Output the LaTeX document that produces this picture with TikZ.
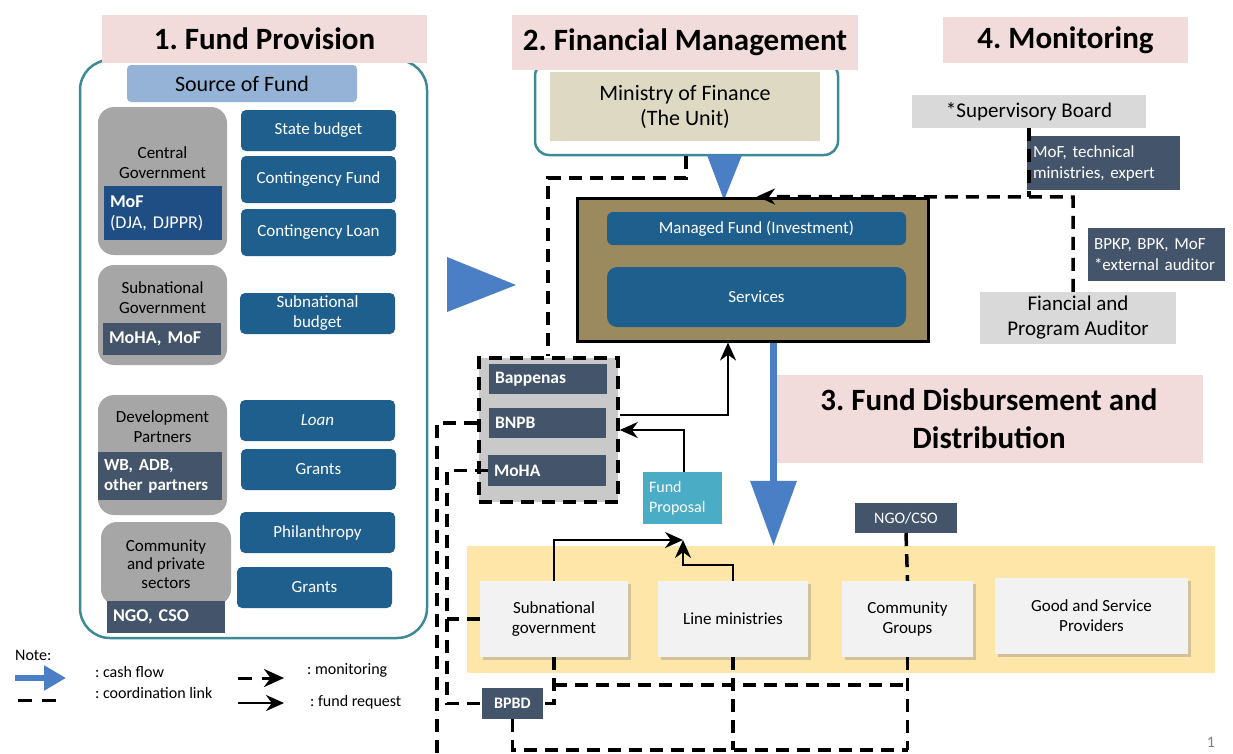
\documentclass[tikz,border=0pt]{standalone}
\usepackage{fontspec}
\setmainfont{Carlito}[WordSpace={1,0,0}]
\usetikzlibrary{arrows.meta,shadows}
\frenchspacing

\definecolor{headpink}{HTML}{F2DCDB}
\definecolor{frameteal}{HTML}{3C8A96}
\definecolor{srcblue}{HTML}{95B3D7}
\definecolor{govgray}{HTML}{A6A6A6}
\definecolor{fundblue}{HTML}{1F5F8E}
\definecolor{mofblue}{HTML}{1F4E85}
\definecolor{slate}{HTML}{44546A}
\definecolor{mofTan}{HTML}{DDD9C3}
\definecolor{mgdOlive}{HTML}{9A8A5E}
\definecolor{boardgray}{HTML}{D9D9D9}
\definecolor{cashblue}{HTML}{4A7EC5}
\definecolor{propcyan}{HTML}{4BACC6}
\definecolor{bandyellow}{HTML}{FDE6A8}
\definecolor{paper}{HTML}{F2F2F2}
\definecolor{grpgray}{HTML}{C9C9C9}

\tikzset{
	head/.style={fill=headpink, font=\fontsize{31}{38}\selectfont\bfseries, inner sep=0, align=center},
	govbox/.style={fill=govgray, rounded corners=16, inner sep=0},
	govtext/.style={font=\fontsize{17}{20}\selectfont, inner sep=0, align=center},
	fundbox/.style={fill=fundblue, rounded corners=5, text=white, font=\fontsize{17}{20}\selectfont, minimum width=155, minimum height=41, inner sep=0, align=center},
	tag/.style={fill=slate, text=white, font=\fontsize{18}{21}\selectfont\bfseries, inner xsep=6, inner ysep=0, align=left},
	greybox/.style={fill=boardgray, font=\fontsize{21}{25}\selectfont, inner sep=0, align=center},
	paperbox/.style={fill=paper, font=\fontsize{17}{20}\selectfont, minimum height=76, inner sep=0, align=center, drop shadow={shadow xshift=3, shadow yshift=3, opacity=0.35}},
	legend/.style={font=\fontsize{16}{19}\selectfont, anchor=west, inner sep=0},
	coordln/.style={line width=3.5, dash pattern=on 13 off 8},
	monitor/.style={coordln, -{Stealth[length=18,width=16]}},
	request/.style={line width=2.5, -{Stealth[length=18,width=16]}},
	cashflow/.style={cashblue, line width=7, -{Triangle[length=65,width=45]}},
}

\begin{document}
\begin{tikzpicture}[x=1pt,y=-1pt]
	\useasboundingbox (0,0) rectangle (1233,753);

	% 1. fund provision
	\node[draw=frameteal, line width=2.5, rounded corners=30, minimum width=347, minimum height=578] (prov) at (253.5,349) {};
	\node[head, minimum width=325, minimum height=48] (h1) at (264.5,39) {1. Fund Provision};
	\node[fill=srcblue, rounded corners=4, minimum width=230, minimum height=37, font=\fontsize{22}{26}\selectfont] (src) at (242,83.5) {Source of Fund};

	\node[govbox, minimum width=129, minimum height=148] (cg) at (162.5,181) {};
	\node[govtext] (cgt) at (162.5,163) {Central\\Government};
	\node[tag, fill=mofblue, text width=106, minimum height=54, font=\fontsize{18}{21}\selectfont] (cgm) at (163,213) {\textbf{MoF}\\(DJA, DJPPR)};
	\node[govbox, minimum width=129, minimum height=100] (sg) at (162.5,315) {};
	\node[govtext] (sgt) at (162.5,297.5) {Subnational\\Government};
	\node[tag, text width=106, minimum height=32] (sgm) at (162,339) {MoHA, MoF};
	\node[govbox, minimum width=129, minimum height=120] (dp) at (162.5,455) {};
	\node[govtext] (dpt) at (162.5,427) {Development\\Partners};
	\node[tag, text width=112, minimum height=48, font=\fontsize{17}{20}\selectfont\bfseries] (dpm) at (160,476) {WB, ADB,\\other partners};
	\node[govbox, minimum width=130, minimum height=83] (cp) at (166,563.5) {};
	\node[govtext, font=\fontsize{17}{18.5}\selectfont] (cpt) at (166,564) {Community\\and private\\sectors};
	\node[tag, text width=106, minimum height=32] (cpm) at (166,617) {NGO, CSO};

	\node[fundbox] (sb) at (318.5,130.5) {State budget};
	\node[fundbox, minimum height=47] (cf) at (318.5,179.5) {Contingency Fund};
	\node[fundbox, minimum height=47] (cl) at (318.5,232.5) {Contingency Loan};
	\node[fundbox] (snb) at (317.5,313.5) {Subnational\\budget};
	\node[fundbox] (loan) at (317.5,420.5) {\itshape Loan};
	\node[fundbox] (gr1) at (318.5,469.5) {Grants};
	\node[fundbox] (phil) at (317.5,532.5) {Philanthropy};
	\node[fundbox] (gr2) at (314.5,587.5) {Grants};

	\fill[cashblue] (447,257) -- (516,285) -- (447,312) -- cycle;

	% 2. financial management
	\node[draw=frameteal, fill=white, line width=2.5, rounded corners=14, minimum width=303, minimum height=93] (mofo) at (686.5,108.5) {};
	\node[head, minimum width=346, minimum height=55] (h2) at (685,42.5) {2. Financial Management};
	\node[fill=mofTan, minimum width=270, minimum height=69, font=\fontsize{22}{25}\selectfont, align=center] (mof) at (685,106.5) {Ministry of Finance\\(The Unit)};
	\fill[cashblue] (707,155) -- (742,155) -- (724,200) -- cycle;

	\node[draw, fill=mgdOlive, line width=3, minimum width=351, minimum height=143] (mgd) at (752.5,269.5) {};
	\node[fundbox, minimum width=299, minimum height=33, rounded corners=6] (mf) at (756.5,228.5) {Managed Fund (Investment)};
	\node[fundbox, minimum width=299, minimum height=60, rounded corners=10] (serv) at (756.5,297) {Services};

	% 4. monitoring
	\node[head, minimum width=245, minimum height=46] (h4) at (1065.5,40) {4. Monitoring};
	\node[greybox, minimum width=234, minimum height=33] (sup) at (1029,111.5) {*Supervisory Board};
	\node[tag, font=\fontsize{17}{21}\selectfont, text width=141, minimum height=54] (supm) at (1103.5,163) {MoF, technical\\ministries, expert};
	\node[greybox, minimum width=196, minimum height=52] (aud) at (1078,318) {Fiancial and\\Program Auditor};
	\node[tag, font=\fontsize{17}{21}\selectfont, text width=125, minimum height=53] (audm) at (1156.5,254.5) {BPKP, BPK, MoF\\{}*external auditor};

	\coordinate (mj) at (1073,197);
	\coordinate (mt) at (757,0);
	\draw[coordln] (sup.south) -- (sup.south |- mj);
	\draw[monitor] (aud.north -| mj) -- (mj) -- (mgd.north -| mt);

	% 3. disbursement
	\node[head, minimum width=428, minimum height=88] (h3) at (989,419) {3. Fund Disbursement and\\Distribution};
	\coordinate (dn) at (773.5,0);
	\node[fill=bandyellow, minimum width=748, minimum height=127] (band) at (841,609.5) {};
	\draw[cashflow] (mgd.south -| dn) -- (band.north -| dn);

	\node[paperbox, minimum width=148] (sng) at (554,619) {Subnational\\government};
	\node[paperbox, minimum width=150] (lm) at (733,619) {Line ministries};
	\node[paperbox, minimum width=131] (cgp) at (907.5,619) {Community\\Groups};
	\node[paperbox, minimum width=193] (gsp) at (1091.5,616) {Good and Service\\Providers};
	\node[tag, font=\fontsize{16}{19}\selectfont, minimum width=102, minimum height=30] (ngo) at (906,518) {NGO/CSO};
	\draw[coordln] (ngo.south) -- (cgp.north);

	% coordination group
	\node[draw, fill=grpgray, coordln, minimum width=139, minimum height=144] (grp) at (548.5,430) {};
	\node[tag, font=\fontsize{17.5}{20}\selectfont\bfseries, text width=106, minimum height=30] (bap) at (548,379) {Bappenas};
	\node[tag, font=\fontsize{17.5}{20}\selectfont\bfseries, text width=105, minimum height=30] (bnpb) at (547.5,423) {BNPB};
	\node[tag, font=\fontsize{17.5}{20}\selectfont\bfseries, text width=106, minimum height=31] (moha) at (547,470.5) {MoHA};
	\node[fill=propcyan, text=white, font=\fontsize{16}{20}\selectfont, text width=67, inner xsep=6, minimum height=52, align=left] (prop) at (682.5,498) {Fund\\Proposal};
	\node[tag, font=\fontsize{16}{19}\selectfont\bfseries, minimum width=61, minimum height=31, align=center] (bpbd) at (512.5,703.5) {BPBD};

	\coordinate (c1) at (686,178);
	\coordinate (c2) at (548,178);
	\draw[coordln] (mofo.south -| c1) -- (c1) -- (c2) -- (grp.north -| c2);

	\coordinate (rq) at (728,415);
	\coordinate (pq) at (684,430);
	\draw[request] (grp.east |- rq) -| (mgd.south -| rq);
	\draw[request] (prop.north -| pq) -- (pq) -- (grp.east |- pq);
	\coordinate (fq) at (683,540);
	\coordinate (fk) at (683,565);
	\draw[request] (sng.north) |- (fq);
	\draw[request] (lm.north) |- (fk) -- (fq);

	\coordinate (l1) at (447,0);
	\coordinate (l2) at (437,0);
	\coordinate (b1) at (0,685);
	\coordinate (b2) at (0,750);
	\draw[coordln] (grp.west |- bnpb.west) -- (bnpb.west -| l2) -- (l2 |- 0,753);
	\draw[coordln] (moha.west) -- (moha.west -| l1) |- (bpbd.west);
	\draw[coordln] (sng.west) -- (sng.west -| l1);
	\draw[coordln] (sng.south) |- (bpbd.east);
	\draw[coordln] (sng.south |- b1) -- (cgp.south |- b1);
	\draw[coordln] (lm.south) -- (lm.south |- b2);
	\draw[coordln] (cgp.south) -- (cgp.south |- b2);
	\draw[coordln] (bpbd.south) |- (cgp.south |- b2);

	% note
	\node[legend] (note) at (15,655) {Note:};
	\coordinate (ka) at (15,678);
	\coordinate (kb) at (66,678);
	\coordinate (kc) at (18,700);
	\coordinate (kd) at (58,700);
	\coordinate (ke) at (238,678);
	\coordinate (kf) at (284,678);
	\coordinate (kg) at (238,703);
	\coordinate (kh) at (284,703);
	\draw[cashblue, line width=6, -{Triangle[length=22,width=24]}] (ka) -- (kb);
	\draw[line width=3, dash pattern=on 14 off 10] (kc) -- (kd);
	\draw[line width=3, dash pattern=on 14 off 10, -{Stealth[length=20,width=18]}] (ke) -- (kf);
	\draw[request] (kg) -- (kh);
	\node[legend] (lcash) at (95,672) {: cash flow};
	\node[legend] (lcoord) at (95,693) {: coordination link};
	\node[legend] (lmon) at (307,670) {: monitoring};
	\node[legend] (lreq) at (310,702) {: fund request};
	\node[font=\fontsize{16}{19}\selectfont, text=gray] (page) at (1211,742) {1};
\end{tikzpicture}
\end{document}
